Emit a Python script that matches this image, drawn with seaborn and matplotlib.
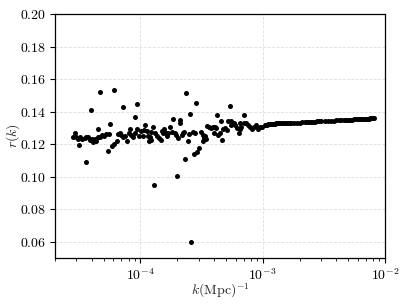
import numpy as np
import pandas as pd
import matplotlib
matplotlib.use("Agg")
import matplotlib.pyplot as plt
import seaborn as sns

# scattered low-k points: k in units of 1e-5 Mpc^-1, and r(k)
k_scatter_e5 = [
    2.90, 2.81, 2.95, 3.10, 3.23, 3.36, 3.50, 3.61, 3.76, 3.85, 4.00, 4.10, 4.26, 4.37,
    4.53, 4.64, 4.83, 5.01, 5.27, 5.54, 4.47, 3.98, 4.70, 3.15, 3.62, 5.44,
    6.12, 7.21, 9.33, 9.10, 5.68, 5.86, 6.10, 6.40, 6.50, 6.77, 6.97, 7.25, 7.53, 7.83,
    8.02, 8.22, 8.45, 8.65, 8.98, 9.45, 9.80, 10.2, 10.44, 10.7, 10.98, 11.26, 11.5,
    11.85, 11.98, 12.3, 12.77, 13.0,
    23.7, 28.3, 25.6, 13.1, 12.1, 13.7, 14.2, 14.6, 14.9, 15.3, 15.7, 16.1, 16.5, 16.9,
    17.6, 18.0, 18.5, 19.0, 19.7, 20.4, 21.0, 21.2, 21.8, 22.3, 22.9, 24.4, 25.0, 26.9,
    23.3, 27.6, 29.0, 30.0, 19.8, 26.0,
    53.5, 70.0, 42.0, 45.3, 52.0, 55.0, 58.0, 59.8, 55.4, 35.1, 36.2, 37.6, 39.0, 40.5,
    41.5, 39.9, 43.0, 44.8, 46.5, 47.7, 49.6, 50.7, 62.0, 63.5, 66.0, 31.5, 32.3, 33.2,
    34.0, 32.7, 34.6, 28.2,
    65.5, 64.8, 70.7, 73.6, 76.4, 79.3, 82.2, 85.5, 88.7, 92.1, 95.6, 99.0,
]
r_scatter = [
    0.1267, 0.1242, 0.1246, 0.1234, 0.1242, 0.1230, 0.1236, 0.1246, 0.1242, 0.1226, 0.1230, 0.1215, 0.1230, 0.1217,
    0.1242, 0.1246, 0.1254, 0.1250, 0.1262, 0.1260, 0.1295, 0.1410, 0.1519, 0.1195, 0.1089, 0.1156,
    0.1533, 0.1430, 0.1447, 0.1365, 0.1324, 0.1189, 0.1201, 0.1219, 0.1262, 0.1267, 0.1256, 0.1246, 0.1250, 0.1221,
    0.1271, 0.1291, 0.1256, 0.1242, 0.1267, 0.1295, 0.1250, 0.1283, 0.1250, 0.1287, 0.1320, 0.1283, 0.1250,
    0.1217, 0.1246, 0.1277, 0.1307, 0.0947,
    0.1513, 0.1451, 0.1385, 0.1271, 0.1226, 0.1250, 0.1236, 0.1226, 0.1283, 0.1267, 0.1291, 0.1271, 0.1250, 0.1267,
    0.1307, 0.1277, 0.1353, 0.1267, 0.1256, 0.1236, 0.1332, 0.1349, 0.1256, 0.1267, 0.1277, 0.1221, 0.1262, 0.1275,
    0.1107, 0.1139, 0.1154, 0.1175, 0.1002, 0.0601,
    0.1436, 0.1381, 0.1377, 0.1340, 0.1344, 0.1344, 0.1332, 0.1318, 0.1318, 0.1312, 0.1303, 0.1297, 0.1303, 0.1307,
    0.1297, 0.1271, 0.1256, 0.1267, 0.1226, 0.1291, 0.1297, 0.1287, 0.1297, 0.1267, 0.1303, 0.1277, 0.1256, 0.1236,
    0.1250, 0.1219, 0.1230, 0.1267,
    0.1332, 0.1291, 0.1332, 0.1328, 0.1320, 0.1307, 0.1295, 0.1307, 0.1320, 0.1295, 0.1303, 0.1307,
]

# smooth high-k branch: k in units of 1e-3 Mpc^-1
k_line_e3 = [1.04, 1.06, 1.09, 1.11, 1.14, 1.17, 1.21, 1.25, 1.29, 1.33, 1.37, 1.41, 1.46, 1.51,
             1.56, 1.61, 1.66, 1.71, 1.8, 1.9, 2.0, 2.1, 2.2, 2.3, 2.4, 2.5, 2.6, 2.7, 2.8, 2.9,
             3.0, 3.2, 3.4, 3.6, 3.8, 4.0, 4.2, 4.4, 4.6, 4.8, 5.0, 5.2, 5.4, 5.6, 5.8, 6.0,
             6.2, 6.4, 6.6, 6.8, 7.0, 7.2, 7.4, 7.6, 7.8, 8.0, 8.2]
r_line = [0.1316, 0.1318, 0.1320, 0.1322, 0.1324, 0.1325, 0.1326, 0.1327, 0.1328, 0.1328, 0.1328, 0.1328, 0.1328, 0.1328,
          0.1328, 0.1329, 0.1330, 0.1331, 0.1332, 0.1332, 0.1333, 0.1334, 0.1335, 0.1336, 0.1337, 0.1337, 0.1338, 0.1339, 0.1340, 0.1340,
          0.1341, 0.1342, 0.1343, 0.1344, 0.1345, 0.1346, 0.1347, 0.1348, 0.1348, 0.1349, 0.1350, 0.1351, 0.1351, 0.1352, 0.1353, 0.1353,
          0.1354, 0.1354, 0.1355, 0.1356, 0.1356, 0.1357, 0.1357, 0.1358, 0.1358, 0.1359, 0.1359]

y_ticks = [0.06, 0.08, 0.10, 0.12, 0.14, 0.16, 0.18, 0.20]

df = pd.DataFrame({
    "k": [v * 1e-5 for v in k_scatter_e5] + [v * 1e-3 for v in k_line_e3],
    "r": r_scatter + r_line,
})

sns.set_style("ticks")
plt.rcParams.update({
    "font.family": "serif",
    "font.serif": ["cmr10", "DejaVu Serif"],
    "mathtext.fontset": "cm",
    "axes.formatter.use_mathtext": True,
    "axes.unicode_minus": False,
    "font.size": 10,
})

fig = plt.figure(figsize=(4.07, 3.05), dpi=100)
ax = fig.add_axes([0.135, 0.154, 0.811, 0.800])
sns.scatterplot(data=df, x="k", y="r", ax=ax, color="black", s=13, linewidth=0)
ax.set_xscale("log")
ax.set_xlim(2e-5, 1e-2)
ax.set_ylim(0.05, 0.20)
ax.set_yticks(y_ticks)
ax.set_yticklabels([f"${v:.2f}$" for v in y_ticks])
ax.grid(True, which="major", linestyle="--", color="#dedede", linewidth=0.6)
for s in ax.spines.values():
    s.set_visible(True)
    s.set_color("black")
    s.set_linewidth(0.9)
ax.tick_params(axis="both", which="major", direction="out", length=3.5, width=0.8,
               colors="black", labelsize=10, pad=3, top=False, right=False)
ax.tick_params(axis="x", which="minor", direction="out", length=2, width=0.6, colors="black")
ax.set_xlabel(r"$k(\mathrm{Mpc})^{-1}$", fontsize=10)
ax.set_ylabel(r"$r(k)$", fontsize=10)
ax.xaxis.set_label_coords(0.5, -0.095)
ax.yaxis.set_label_coords(-0.10, 0.5)
fig.savefig("out.png", dpi=100)
